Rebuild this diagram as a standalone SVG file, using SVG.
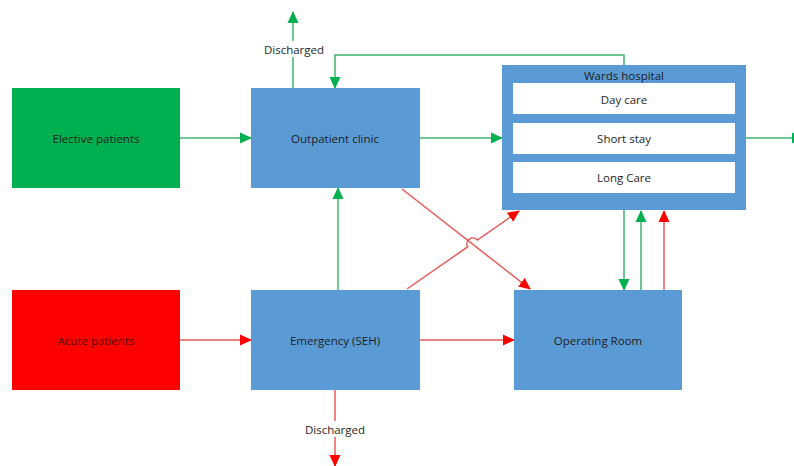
<svg xmlns="http://www.w3.org/2000/svg" width="794" height="466" viewBox="0 0 794 466">
<style>
.t{font-family:"Open Sans","Liberation Sans",sans-serif;font-size:11.5px;fill:#1e1e1e;text-anchor:middle;dominant-baseline:central}
.blue{fill:#5b9bd5}
.g{stroke:#3fb56f;stroke-width:1.5;fill:none}
.r{stroke:#e85a5a;stroke-width:1.5;fill:none}
.lbl{fill:#fff}
</style>
<defs>
<marker id="ag" markerUnits="userSpaceOnUse" markerWidth="12" markerHeight="12" viewBox="0 0 12 12" refX="11" refY="6" orient="auto"><path d="M0,0.5L12,6L0,11.5Z" fill="#00b050"/></marker>
<marker id="ar" markerUnits="userSpaceOnUse" markerWidth="12" markerHeight="12" viewBox="0 0 12 12" refX="11" refY="6" orient="auto"><path d="M0,0.5L12,6L0,11.5Z" fill="#ff0000"/></marker>
</defs>
<rect width="794" height="466" fill="#fff"/>
<g id="connectors">
<path class="g" d="M180,138H251" marker-end="url(#ag)"/>
<path class="r" d="M180,340H251" marker-end="url(#ar)"/>
<path class="r" d="M420,340H514" marker-end="url(#ar)"/>
<path class="g" d="M338,290V188" marker-end="url(#ag)"/>
<path class="g" d="M293,88V12" marker-end="url(#ag)"/>
<path class="g" d="M624,65V55H335V88" marker-end="url(#ag)"/>
<path class="g" d="M420,138H502" marker-end="url(#ag)"/>
<path class="g" d="M746,138H803" marker-end="url(#ag)"/>
<path class="r" d="M402,189L530,289" marker-end="url(#ar)"/>
<path class="r" d="M407,289L467.6,246.9A6,6 0 0 1 477.4,240.1L519,211" marker-end="url(#ar)"/>
<path class="g" d="M624,210V290" marker-end="url(#ag)"/>
<path class="g" d="M641,290V211" marker-end="url(#ag)"/>
<path class="r" d="M664,290V211" marker-end="url(#ar)"/>
<path class="r" d="M335,390V466" marker-end="url(#ar)"/>
<rect class="lbl" x="261" y="41" width="66" height="16"/>
<text class="t" x="294" y="49">Discharged</text>
<rect class="lbl" x="302" y="421" width="66" height="16"/>
<text class="t" x="335" y="429">Discharged</text>
</g>
<g id="elective"><rect x="12" y="88" width="168" height="100" fill="#00b050"/><text class="t" x="96" y="138">Elective patients</text></g>
<g id="acute"><rect x="12" y="290" width="168" height="100" fill="#ff0000"/><text class="t" x="96" y="340" style="fill:#5a0000">Acute patients</text></g>
<g id="outpatient"><rect class="blue" x="251" y="88" width="169" height="100"/><text class="t" x="335" y="138">Outpatient clinic</text></g>
<g id="emergency"><rect class="blue" x="251" y="290" width="169" height="100"/><text class="t" x="335" y="340">Emergency (SEH)</text></g>
<g id="operating"><rect class="blue" x="514" y="290" width="168" height="100"/><text class="t" x="598" y="340">Operating Room</text></g>
<g id="wards"><rect class="blue" x="502" y="65" width="244" height="145"/><text class="t" x="624" y="75">Wards hospital</text>
<rect x="513" y="83" width="222" height="31" fill="#fff"/><text class="t" x="624" y="99">Day care</text>
<rect x="513" y="123" width="222" height="31" fill="#fff"/><text class="t" x="624" y="138">Short stay</text>
<rect x="513" y="162" width="222" height="31" fill="#fff"/><text class="t" x="624" y="177">Long Care</text></g>
</svg>
